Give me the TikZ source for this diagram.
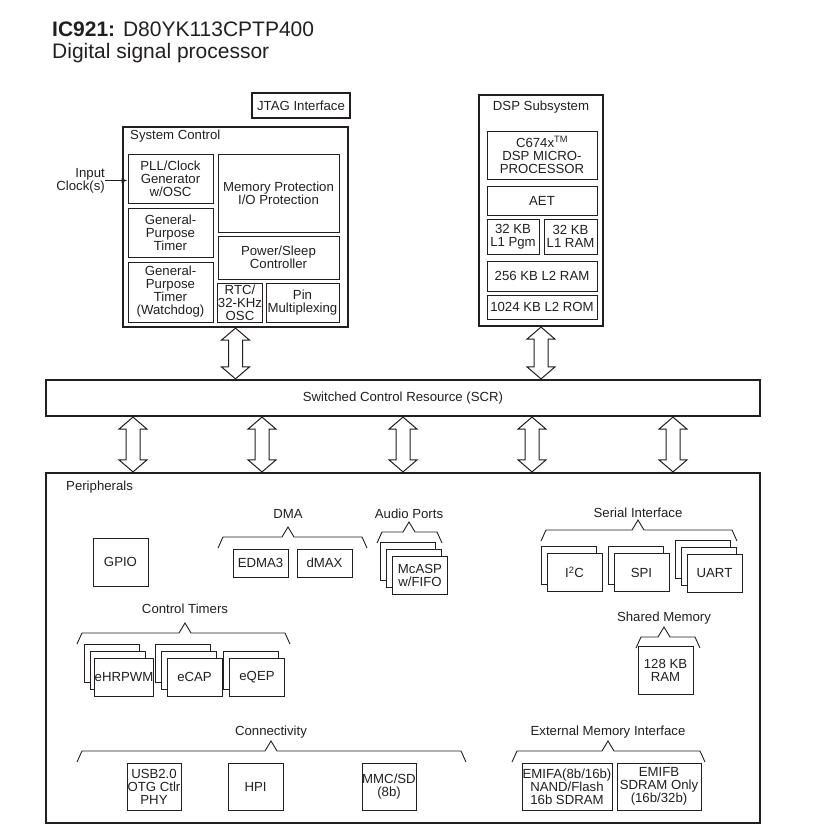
\documentclass[tikz,border=0pt]{standalone}
\usepackage{fontspec}
\setmainfont{Liberation Sans}
\usepackage{tikz}
\usetikzlibrary{arrows.meta, calc}
\definecolor{ink}{RGB}{35, 31, 32}
\newcommand{\bodyfont}{\fontsize{13.2pt}{13pt}\selectfont}
\newcommand{\titlefont}{\fontsize{21pt}{24pt}\selectfont}

%% hollow two-way bus arrow between two points (top, bottom)
\newcommand{\busarrow}[2]{%
  \draw[bus] (#1) -- ([shift={(14,12)}]#1) -- ([shift={(7,12)}]#1)
    -- ([shift={(7,-12)}]#2) -- ([shift={(14,-12)}]#2) -- (#2)
    -- ([shift={(-14,-12)}]#2) -- ([shift={(-7,-12)}]#2)
    -- ([shift={(-7,12)}]#1) -- ([shift={(-14,12)}]#1) -- cycle;}
%% group bracket: left x, peak x, right x, bar y
\newcommand{\grpbrace}[4]{%
  \draw[grp] (#1,#4+11) -- (#1+5,#4) -- (#2-6,#4) -- (#2,#4-10)
    -- (#2+6,#4) -- (#3-5,#4) -- (#3,#4+11);}
%% stacked instances: name, centre, number of back layers, text
\newcommand{\stackbox}[4]{%
  \foreach \k in {#3,...,1}
    \node[pbox] (#1-\k) at ($(#2)+(-6*\k,-7*\k)$) {};
  \node[pbox] (#1) at (#2) {#4};}

\begin{document}
\begin{tikzpicture}[
    x=1pt, y=-1pt,
    every node/.style={font=\bodyfont, text=ink},
    blk/.style={draw=ink, line width=1pt, inner sep=0pt, align=center},
    frame/.style={draw=ink, line width=2.2pt, inner sep=0pt},
    pbox/.style={blk, fill=white, minimum width=55pt, minimum height=38pt},
    grp/.style={draw=ink, line width=0.9pt},
    bus/.style={draw=ink, line width=1pt, fill=white},
    arr/.style={-{Latex[length=6pt, width=5pt]}, line width=1pt, draw=ink},
    lbl/.style={inner sep=0pt}
]
\useasboundingbox (0,0) rectangle (826,839);

%% ---- Title ----
\node[lbl, anchor=base west, font=\titlefont] (title) at (52,36) {\textbf{IC921:} D80YK113CPTP400};
\node[lbl, anchor=base west, font=\titlefont] (subtitle) at (52,58) {Digital signal processor};

%% ---- System control ----
\node[frame, minimum width=98pt, minimum height=25pt] (jtag) at (301,105.5) {JTAG Interface};
\node[frame, minimum width=225pt, minimum height=200pt] (sysctl) at (235.5,227) {};
\node[lbl, anchor=base west] (sysctllbl) at (130,139) {System Control};

\node[blk, minimum width=85pt, minimum height=49pt] (pll) at (170.5,178.5) {PLL/Clock\\Generator\\w/OSC};
\node[blk, minimum width=85pt, minimum height=49pt] (gpt) at (170.5,232.5) {General-\\Purpose\\Timer};
\node[blk, minimum width=85pt, minimum height=60pt] (wdt) at (170.5,292) {General-\\Purpose\\Timer\\(Watchdog)};
\node[blk, minimum width=121pt, minimum height=78pt] (memprot) at (278.5,193) {Memory Protection\\I/O Protection};
\node[blk, minimum width=121pt, minimum height=43pt] (pwr) at (278.5,257.5) {Power/Sleep\\Controller};
\node[blk, minimum width=44pt, minimum height=39pt] (rtc) at (240,302.5) {RTC/\\32-KHz\\OSC};
\node[blk, minimum width=73pt, minimum height=39pt] (pinmux) at (302.5,302.5) {Pin\\Multiplexing};

\node[lbl, anchor=east, align=right] (clkin) at (105,180.5) {Input\\Clock(s)};
\draw[arr] (clkin.east) -- (clkin.east -| pll.west);

%% ---- DSP subsystem ----
\node[frame, minimum width=124pt, minimum height=231pt] (dsp) at (541,210.5) {};
\node[lbl, anchor=base] (dsplbl) at (541,110.5) {DSP Subsystem};
\node[blk, minimum width=110pt, minimum height=48pt] (cpu) at (542,155) {C674x\textsuperscript{TM}\\DSP MICRO-\\PROCESSOR};
\node[blk, minimum width=110pt, minimum height=29pt] (aet) at (542,200.5) {AET};
\node[blk, minimum width=52pt, minimum height=35pt] (lonep) at (513,236.5) {32 KB\\L1 Pgm};
\node[blk, minimum width=53pt, minimum height=35pt] (loner) at (570.5,236.5) {32 KB\\L1 RAM};
\node[blk, minimum width=110pt, minimum height=30pt] (ltwor) at (542,276) {256 KB L2 RAM};
\node[blk, minimum width=110pt, minimum height=24pt] (ltwom) at (542,307) {1024 KB L2 ROM};

%% ---- Switched control resource ----
\node[frame, minimum width=714pt, minimum height=36pt] (scr) at (403,398) {Switched Control Resource (SCR)};
\node[frame, minimum width=714pt, minimum height=350pt] (periph) at (403,648) {};
\node[lbl, anchor=base west] (periphlbl) at (66,490) {Peripherals};

%% ---- Bus arrows ----
\busarrow{sysctl.south}{sysctl.south |- scr.north}
\busarrow{dsp.south}{dsp.south |- scr.north}
\foreach \bx [count=\i] in {133,262,403,532,673} {
  \coordinate (bt\i) at (scr.south -| \bx,0);
  \coordinate (bb\i) at (periph.north -| \bx,0);
  \busarrow{bt\i}{bb\i}
}

%% ---- Peripherals ----
\node[blk, minimum width=55pt, minimum height=48pt] (gpio) at (120.5,562) {GPIO};

\node[lbl, anchor=base] (dmalbl) at (288,518) {DMA};
\grpbrace{218}{288}{367}{537}
\node[blk, minimum width=55pt, minimum height=28pt] (edma) at (260.5,563) {EDMA3};
\node[blk, minimum width=55pt, minimum height=28pt] (dmax) at (324.5,563) {dMAX};

\node[lbl, anchor=base] (audiolbl) at (409,518) {Audio Ports};
\grpbrace{377}{409}{442}{532}
\stackbox{mcasp}{420,575}{2}{McASP\\w/FIFO}

\node[lbl, anchor=base] (seriallbl) at (638,517) {Serial Interface};
\grpbrace{541}{638}{737}{530}
\stackbox{iic}{574.5,572.5}{1}{I\textsuperscript{2}C}
\stackbox{spi}{641.5,572.5}{1}{SPI}
\stackbox{uart}{714.5,573}{2}{UART}

\node[lbl, anchor=base] (shmemlbl) at (664,621.5) {Shared Memory};
\grpbrace{636}{664}{700}{637}
\node[blk, minimum width=55pt, minimum height=48pt] (shram) at (665.5,670) {128 KB\\RAM};

\node[lbl, anchor=base] (timerlbl) at (185,613) {Control Timers};
\grpbrace{77}{185}{290}{633}
\stackbox{pwm}{124,677}{2}{eHRPWM}
\stackbox{ecap}{194.5,677}{2}{eCAP}
\stackbox{eqep}{257,677}{1}{eQEP}

\node[lbl, anchor=base] (connlbl) at (271,735) {Connectivity};
\grpbrace{77}{271}{466}{751}
\node[blk, minimum width=54pt, minimum height=47pt] (usb) at (154,786.5) {USB2.0\\OTG Ctlr\\PHY};
\node[blk, minimum width=55pt, minimum height=47pt] (hpi) at (255.5,786.5) {HPI};
\node[blk, minimum width=54pt, minimum height=47pt] (mmc) at (389,786.5) {MMC/SD\\(8b)};

\node[lbl, anchor=base] (emilbl) at (608,735) {External Memory Interface};
\grpbrace{512}{608}{705}{751}
\node[blk, minimum width=90pt, minimum height=47pt] (emifa) at (567,786.5) {EMIFA(8b/16b)\\NAND/Flash\\16b SDRAM};
\node[blk, minimum width=84pt, minimum height=47pt] (emifb) at (659,786.5) {EMIFB\\SDRAM Only\\(16b/32b)};

\end{tikzpicture}
\end{document}
